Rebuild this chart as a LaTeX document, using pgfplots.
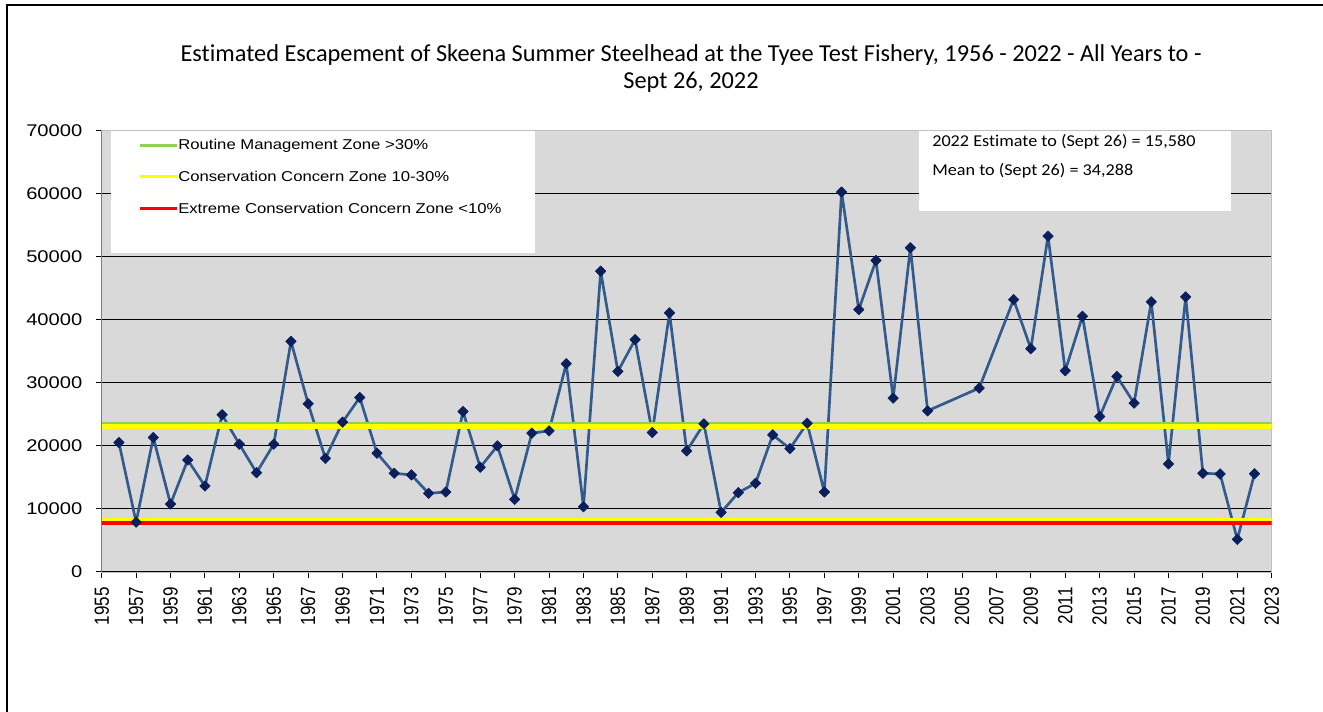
\documentclass[border=0pt]{standalone}
\usepackage{fontspec}
\usepackage{graphicx}
\usepackage{pgfplots}
\pgfplotsset{compat=1.18}
\setmainfont{Liberation Sans}
\newfontfamily\arialw[FakeStretch=1.19]{Liberation Sans}
\newfontfamily\arialleg[FakeStretch=1.17]{Liberation Sans}
\newfontfamily\calibri[Ligatures={NoCommon,NoRequired,NoContextual}]{Carlito}
\newfontfamily\calibriw[FakeStretch=1.1,Ligatures={NoCommon,NoRequired,NoContextual}]{Carlito}
\definecolor{plotgray}{HTML}{D9D9D9}
\definecolor{serblue}{HTML}{335A8C}
\definecolor{marknavy}{HTML}{0B1F5C}
\definecolor{zgreen}{HTML}{92D050}
\definecolor{zyellow}{HTML}{FFFF00}
\definecolor{zred}{HTML}{FF0000}
\pgfplotstableread{
year value
1956 20530
1957 7900
1958 21330
1959 10780
1960 17770
1961 13640
1962 24940
1963 20270
1964 15750
1965 20270
1966 36580
1967 26680
1968 18030
1969 23770
1970 27680
1971 18840
1972 15660
1973 15390
1974 12480
1975 12690
1976 25450
1977 16610
1978 20000
1979 11520
1980 22020
1981 22380
1982 33040
1983 10350
1984 47710
1985 31820
1986 36850
1987 22120
1988 41100
1989 19200
1990 23500
1991 9460
1992 12580
1993 14070
1994 21750
1995 19570
1996 23600
1997 12690
1998 60270
1999 41620
2000 49410
2001 27580
2002 51430
2003 25560
2006 29170
2008 43210
2009 35420
2010 53280
2011 31920
2012 40560
2013 24660
2014 31020
2015 26790
2016 42850
2017 17140
2018 43640
2019 15660
2020 15550
2021 5170
2022 15580
}\escdata
\begin{document}
\begin{tikzpicture}[x=0.75pt,y=0.75pt]
\path[use as bounding box] (0,0) rectangle (1323,712);
\draw[line width=1pt] (7,0) -- (7,707) -- (1323,707);
\node[font=\calibri\fontsize{18.25}{21}\selectfont, inner sep=0] at (691,657) {Estimated Escapement of Skeena Summer Steelhead at the Tyee Test Fishery, 1956 - 2022 - All Years to -};
\node[font=\calibri\fontsize{18.25}{21}\selectfont, inner sep=0] at (691,630) {Sept 26, 2022};
\begin{axis}[at={(76.275pt,105pt)}, anchor=south west, scale only axis,
  width=877.5pt, height=331pt,
  xmin=1955, xmax=2023, ymin=0, ymax=70000,
  axis background/.style={fill=plotgray},
  axis line style={draw=gray!50},
  xtick={1955,1957,...,2023}, minor x tick num=7,
  ytick={0,10000,...,70000},
  tick pos=left, tick align=outside,
  major tick length=4.5pt, minor tick length=2.5pt,
  tick style={black, line width=0.75pt},
  ymajorgrids, grid style={black, line width=0.75pt},
  scaled y ticks=false,
  /pgf/number format/1000 sep={},
  /pgf/number format/assume math mode=true,
  xticklabel={\scalebox{1}[1.2]{\pgfmathprintnumber{\tick}}},
  xticklabel shift=3.5pt,
  yticklabel shift=6.5pt,
  x tick label style={rotate=90, anchor=east, font=\fontsize{12.8}{14}\selectfont},
  y tick label style={font=\arialw\fontsize{12.7}{14}\selectfont},
]
\addplot[serblue, line width=2pt, line join=round, mark=square*, mark size=2.8pt,
  mark options={rotate=45, fill=marknavy, draw=marknavy, line width=0.4pt}] table[x=year, y=value] {\escdata};
\addplot[zgreen, line width=1.6pt] coordinates {(1955,23650) (2023,23650)};
\addplot[zyellow, line width=3.3pt] coordinates {(1955,23080) (2023,23080)};
\addplot[zyellow, line width=3pt] coordinates {(1955,8300) (2023,8300)};
\addplot[zred, line width=3pt] coordinates {(1955,7720) (2023,7720)};
\draw[black, line width=1pt] (rel axis cs:0,0) -- (rel axis cs:0,1);
\end{axis}
% legend box
\fill[white] (110.7,458.7) rectangle (535,581.3);
\draw[zgreen, line width=2.6pt] (140,566.3) -- (177,566.3);
\draw[zyellow, line width=2.6pt] (140,535.3) -- (177,535.3);
\draw[zred, line width=2.6pt] (140,503.7) -- (177,503.7);
\node[anchor=west, font=\arialleg\fontsize{10.7}{12}\selectfont, inner sep=0] at (178,566.3) {Routine Management Zone >30\%};
\node[anchor=west, font=\arialleg\fontsize{10.7}{12}\selectfont, inner sep=0] at (178,535.3) {Conservation Concern Zone 10-30\%};
\node[anchor=west, font=\arialleg\fontsize{10.7}{12}\selectfont, inner sep=0] at (178,503.7) {Extreme Conservation Concern Zone <10\%};
% stats box
\fill[white] (919,501) rectangle (1231,581.3);
\node[anchor=west, font=\calibriw\fontsize{12.4}{14}\selectfont, inner sep=0] at (932,570.3) {2022 Estimate to (Sept 26) = 15,580};
\node[anchor=west, font=\calibriw\fontsize{12.4}{14}\selectfont, inner sep=0] at (932,541) {Mean to (Sept 26) = 34,288};
\end{tikzpicture}
\end{document}
